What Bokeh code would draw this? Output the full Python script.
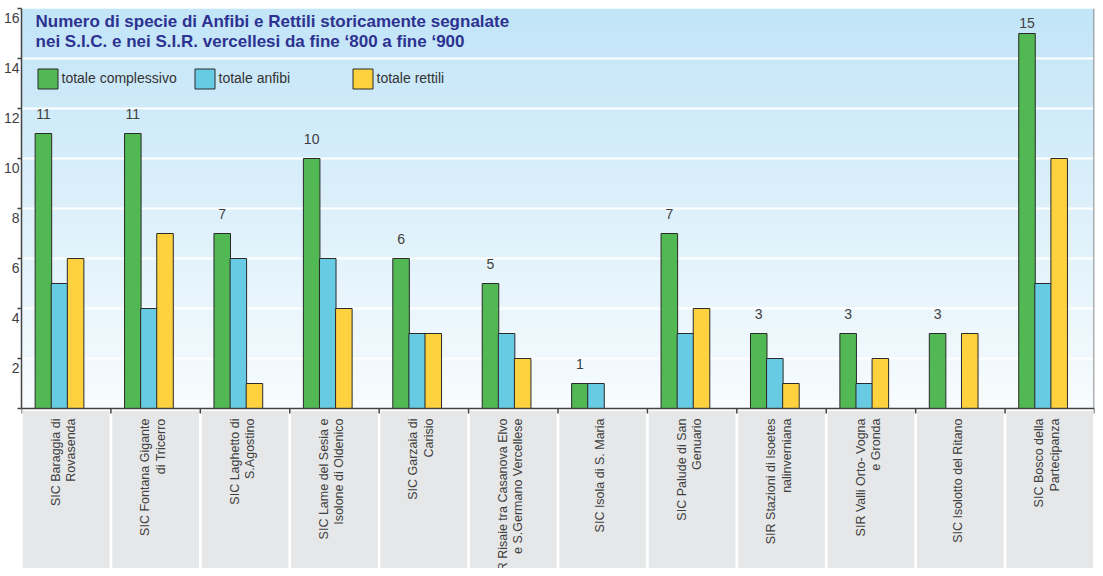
import numpy as np
from bokeh.plotting import figure
from bokeh.models import (ColumnDataSource, FixedTicker, Legend, LegendItem, Span,
                          LinearAxis)
from bokeh.core.properties import value
from bokeh.embed import file_html
from bokeh.resources import INLINE

# ---------------- data ----------------
categories = [
    "SIC Baraggia di\nRovasenda",
    "SIC Fontana Gigante\ndi Tricerro",
    "SIC Laghetto di\nS.Agostino",
    "SIC Lame del Sesia e\nIsolone di Oldenico",
    "SIC Garzaia di\nCarisio",
    "SIR Risaie tra Casanova Elvo\ne S.Germano Vercellese",
    "SIC Isola di S. Maria",
    "SIC Palude di San\nGenuario",
    "SIR Stazioni di Isoetes\nnalinverniana",
    "SIR Valli Orto- Vogna\ne Gronda",
    "SIC Isolotto del Ritano",
    "SIC Bosco della\nPartecipanza",
]
totale_complessivo = [11, 11, 7, 10, 6, 5, 1, 7, 3, 3, 3, 15]
totale_anfibi = [5, 4, 6, 6, 3, 3, 1, 3, 2, 1, 0, 5]
totale_rettili = [6, 7, 1, 4, 3, 2, 0, 4, 1, 2, 3, 10]
series_names = ["totale complessivo", "totale anfibi", "totale rettili"]
y_ticks = [0, 2, 4, 6, 8, 10, 12, 14, 16]
y_tick_labels = ["2", "4", "6", "8", "10", "12", "14", "16"]
title_text = ("Numero di specie di Anfibi e Rettili storicamente segnalate\n"
              "nei S.I.C. e nei S.I.R. vercellesi da fine \u2018800 a fine \u2018900")

# ---------------- style ----------------
FONT_NAME = "Liberation Sans"
FONT = value(FONT_NAME)
GREEN, BLUE, YELLOW = "#52b854", "#66cbe3", "#fed23f"
TXT = "#404040"
AX = "#444444"
n = len(categories)
idx = np.arange(n)
YMIN, YMAX = -6.4, 16

p = figure(width=1095, height=568, x_range=(0, n), y_range=(YMIN, YMAX),
           output_backend="svg", toolbar_location=None,
           min_border_left=20, min_border_right=1, min_border_top=8, min_border_bottom=0,
           x_axis_location=None, background_fill_color="white",
           border_fill_color="white", outline_line_color=None)

# gradient background of plotting area
N = 200
img = np.empty((N, 1), dtype=np.uint32)
view = img.view(dtype=np.uint8).reshape((N, 1, 4))
bottom_c = np.array([248, 252, 254])
top_c = np.array([194, 229, 248])
t = np.linspace(0, 1, N)
for k in range(3):
    view[:, 0, k] = (bottom_c[k] + (top_c[k] - bottom_c[k]) * t).astype(np.uint8)
view[:, 0, 3] = 255
p.image_rgba(image=[img], x=0, y=0, dw=n, dh=YMAX, level="image")

# grid
p.xgrid.visible = False
p.ygrid.ticker = FixedTicker(ticks=y_ticks[1:-1])
p.ygrid.grid_line_color = "white"
p.ygrid.grid_line_width = 2.2

# y axis: line + ticks (inner)
ax = p.yaxis[0]
ax.ticker = FixedTicker(ticks=y_ticks)
ax.bounds = (0, YMAX)
ax.major_label_overrides = {v: "" for v in y_ticks}
ax.major_label_text_color = None
ax.major_label_standoff = 0
ax.major_tick_out = 4
ax.major_tick_in = 0
ax.minor_tick_line_color = None
ax.axis_line_color = AX
ax.axis_line_width = 1.5
ax.major_tick_line_color = AX
ax.major_tick_line_width = 1.5

# y axis labels, sitting just below each tick (outer axis)
label_pos = [v - 0.36 for v in y_ticks[1:]]
ax2 = LinearAxis(ticker=FixedTicker(ticks=label_pos),
                 major_label_overrides={pos: lab for pos, lab in zip(label_pos, y_tick_labels)},
                 axis_line_color=None, major_tick_line_color=None, minor_tick_line_color=None,
                 major_tick_out=0, major_tick_in=0, major_label_standoff=-2,
                 major_label_text_font=FONT_NAME, major_label_text_font_size="14px",
                 major_label_text_color=TXT)
p.add_layout(ax2, "left")

# label boxes under the axis
p.quad(left=idx + 0.015, right=idx + 1 - 0.015, top=-0.1, bottom=YMIN,
       fill_color="#e6e7e8", line_color=None)

# baseline, category ticks, right border
p.add_layout(Span(location=0, dimension="width", line_color=AX, line_width=1.5))
bnd = np.arange(n + 1)
p.segment(x0=bnd, y0=0, x1=bnd, y1=-0.2, line_color=AX, line_width=1.5)
p.segment(x0=[n - 0.006], y0=[0], x1=[n - 0.006], y1=[YMAX], line_color="#9a9a9a", line_width=1.5)

# bars
tc = np.array(totale_complessivo)
src = ColumnDataSource(dict(
    xg=idx + 0.245, xb=idx + 0.425, xy=idx + 0.605,
    tc=totale_complessivo, ta=totale_anfibi, tr=totale_rettili,
    lab_y=np.minimum(tc + 0.8, 15.44),
    lab=[str(v) for v in totale_complessivo],
))
W = 0.185
rg = p.vbar(x="xg", top="tc", width=W, bottom=0, source=src, fill_color=GREEN,
            line_color="#2a2a2a", line_width=1)
rb = p.vbar(x="xb", top="ta", width=W, bottom=0, source=src, fill_color=BLUE,
            line_color="#2a2a2a", line_width=1)
ry = p.vbar(x="xy", top="tr", width=W, bottom=0, source=src, fill_color=YELLOW,
            line_color="#2a2a2a", line_width=1)

# value labels
p.text(x="xg", y="lab_y", text="lab", source=src, text_align="center",
       text_baseline="middle", text_font=FONT, text_font_size="14px", text_color=TXT)

# category labels (rotated)
p.text(x=idx + 0.47, y=np.full(n, -0.4), text=categories, angle=np.pi / 2,
       text_align="right", text_baseline="middle", text_font=FONT,
       text_font_size="12.5px", text_line_height=1.1, text_color=TXT)

# title
p.text(x=[0.157], y=[15.88], text=[title_text], text_align="left", text_baseline="top",
       text_font=FONT, text_font_style="bold", text_font_size="17px",
       text_line_height=1.1, text_color="#2d3291")

# legends
for r, name, xloc in zip([rg, rb, ry], series_names, [13.5, 170.5, 328.5]):
    leg = Legend(items=[LegendItem(label=name, renderers=[r])], location=(xloc, 477.5),
                 orientation="horizontal", glyph_width=25, glyph_height=25,
                 label_standoff=2, padding=0, margin=0, spacing=0,
                 border_line_color=None, background_fill_alpha=0,
                 label_text_font=FONT_NAME, label_text_font_size="14px",
                 label_text_color="#333333", label_height=25)
    p.add_layout(leg)

open("out.html", "w").write(file_html(p, INLINE))
